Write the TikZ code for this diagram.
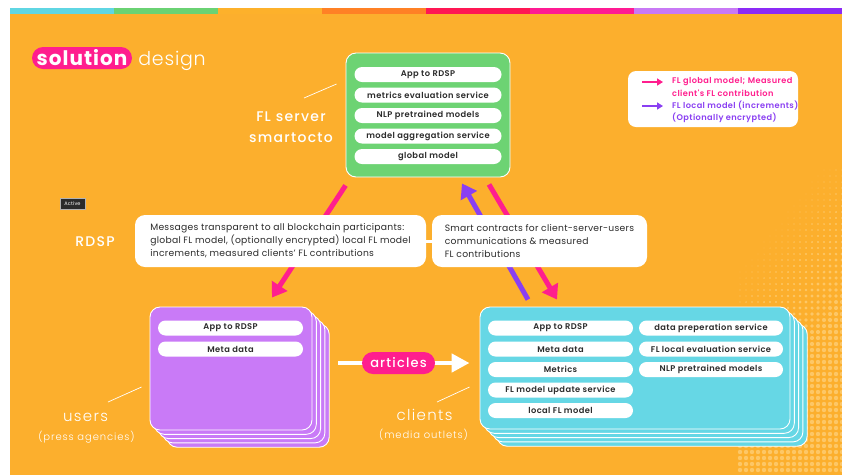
\documentclass[tikz,border=0pt]{standalone}
\usepackage{fontspec}
\setmainfont[LetterSpace=3]{Poppins}
\newfontfamily\popsemi[LetterSpace=5]{Poppins SemiBold}
\newfontfamily\popmed[LetterSpace=9]{Poppins Medium}
\newfontfamily\poplight[LetterSpace=9]{Poppins Light}
\newfontfamily\poptitle[LetterSpace=4]{Poppins Light}
\newfontfamily\popbold[LetterSpace=5]{Poppins Bold}
\usetikzlibrary{calc}
\usetikzlibrary{arrows.meta}
\usetikzlibrary{positioning}

\definecolor{bgorange}{HTML}{FCAF2D}
\definecolor{dotorange}{HTML}{FDC766}
\definecolor{stcyan}{HTML}{5FD6E3}
\definecolor{stgreen}{HTML}{6AD273}
\definecolor{storange}{HTML}{FDB12B}
\definecolor{stdark}{HTML}{FF8125}
\definecolor{stred}{HTML}{FF1654}
\definecolor{stpink}{HTML}{FF1A93}
\definecolor{stlilac}{HTML}{C879F5}
\definecolor{stviolet}{HTML}{8C2AF6}
\definecolor{srvgreen}{HTML}{6DD373}
\definecolor{clcyan}{HTML}{66D7E5}
\definecolor{uslilac}{HTML}{C97AF7}
\definecolor{flpink}{HTML}{FF1E8E}
\definecolor{flviolet}{HTML}{8A3FF2}
\definecolor{darktext}{HTML}{2B2B2B}

\begin{document}
\begin{tikzpicture}[x=1pt,y=-1pt,
        card/.style={draw=white,line width=0.9pt,rounded corners=10pt},
        item/.style={fill=white,rounded corners=7.5pt,minimum height=15pt,inner sep=0pt,text=darktext,font=\popsemi\fontsize{8.3}{9}\selectfont},
        srvitem/.style={item,minimum width=147pt},
        clitem/.style={item,minimum width=145pt},
        msg/.style={fill=white,rounded corners=10pt,align=left,inner sep=0pt,text=darktext,font=\fontsize{9.2}{13}\selectfont},
        lbl/.style={text=white,inner sep=0pt,font=\popmed\fontsize{14}{16}\selectfont},
        sublbl/.style={text=white,inner sep=0pt,font=\poplight\fontsize{10}{12}\selectfont},
        pill/.style={fill=flpink,rounded corners=11pt,minimum height=22pt,inner sep=0pt,text=white},
        legtxt/.style={anchor=west,inner sep=0pt,font=\popsemi\fontsize{8.2}{9}\selectfont},
        flowpink/.style={draw=flpink,line width=5pt,-{Triangle[length=14pt,width=18pt]}},
        flowviolet/.style={draw=flviolet,line width=5pt,-{Triangle[length=14pt,width=18pt]}},
        tick/.style={draw=white,line width=0.7pt}
      ]
      \useasboundingbox (0,0) rectangle (842,475);
      % background and top stripe
      \fill[white] (0,0) rectangle (842,475);
      \fill[bgorange] (10,14) rectangle (842,475);
      \foreach \c [count=\n from 0] in {stcyan,stgreen,storange,stdark,stred,stpink,stlilac,stviolet}
        \fill[\c] ({10+104*\n},8) rectangle ({10+104*(\n+1)},14);
      % halftone dots
      \foreach \i in {0,...,17}{
        \foreach \j in {0,...,50}{
          \pgfmathsetmacro\dotr{min(2.2,2.2*((\i*6+10)/160+(\j*6)/200)-0.9)}
          \ifdim\dotr pt>0.35pt
            \fill[dotorange] ({740+6*\i},{170+6*\j}) circle (\dotr pt);
          \fi
        }
      }

      % title
      \node[pill,minimum width=100pt,font=\popbold\fontsize{20}{22}\selectfont] (title) at (82,58) {solution};
      \node[anchor=base west,inner sep=0pt,text=white,font=\poptitle\fontsize{19}{22}\selectfont] (titlerest) at ([xshift=6pt]title.base east) {design};

      % FL server
      \node[card,fill=srvgreen,minimum width=164pt,minimum height=124pt] (server) at (428,115) {};
      \node[srvitem] (srvapp) at (428,74.5) {App to RDSP};
      \node[srvitem] (srvmetrics) at (428,95) {metrics evaluation service};
      \node[srvitem] (srvnlp) at (428,115.5) {NLP pretrained models};
      \node[srvitem] (srvagg) at (428,136) {model aggregation service};
      \node[srvitem] (srvglobal) at (428,156.5) {global model};

      % users stack
      \foreach \k in {4,3,2,1}
        \draw[card,fill=uslilac] ({150+4.3*\k},{307+4.3*\k}) rectangle ({312+4.3*\k},{430+4.3*\k});
      \node[card,fill=uslilac,minimum width=162pt,minimum height=123pt] (users) at (231,368.5) {};
      \node[clitem] (usapp) at (230.5,328) {App to RDSP};
      \node[clitem] (usmeta) at (230.5,349) {Meta data};

      % clients stack
      \foreach \k in {4,3,2,1}
        \draw[card,fill=clcyan] ({480+4.3*\k},{307+4.3*\k}) rectangle ({790+4.3*\k},{429+4.3*\k});
      \node[card,fill=clcyan,minimum width=310pt,minimum height=122pt] (clients) at (635,368) {};
      \node[clitem] (clapp) at (560.5,328) {App to RDSP};
      \node[clitem] (clmeta) at (560.5,349) {Meta data};
      \node[clitem] (clmetrics) at (560.5,369.5) {Metrics};
      \node[clitem] (clupdate) at (560.5,390) {FL model update service};
      \node[clitem] (cllocal) at (560.5,410.5) {local FL model};
      \node[clitem,minimum width=144pt] (clprep) at (711,328) {data preperation service};
      \node[clitem,minimum width=144pt] (cleval) at (711,349) {FL local evaluation service};
      \node[clitem,minimum width=144pt] (clnlp) at (711,369.5) {NLP pretrained models};

      % FL flows
      \draw[flowpink] ([yshift=-8pt]server.south west) -- ([xshift=41pt,yshift=9pt]users.north);
      \draw[flowviolet] ([xshift=-107pt,yshift=7pt]clients.north) -- ([xshift=34pt,yshift=-6pt]server.south);
      \draw[flowpink] ([xshift=61pt,yshift=-7pt]server.south) -- ([xshift=-78pt,yshift=7pt]clients.north);

      % blockchain messages
      \node[msg,minimum width=291pt,minimum height=52pt] (msgs) at (280.5,241) {Messages transparent to all blockchain participants:\\global FL model, (optionally encrypted) local FL model\\increments, measured clients' FL contributions};
      \node[msg,minimum width=215pt,minimum height=52pt] (smart) at (539.5,241) {Smart contracts for client-server-users\\communications \& measured\\FL contributions};
      \draw[white,line width=3pt] (msgs.east) -- (smart.west);

      % articles
      \draw[white,line width=4.5pt,-{Triangle[length=18pt,width=18pt]}] ([xshift=26pt,yshift=5.5pt]users.east) -- ([xshift=-10pt,yshift=5pt]clients.west);
      \node[pill,minimum width=73pt,font=\popmed\fontsize{13}{15}\selectfont] (artlabel) at (398.5,363) {articles};

      % labels
      \node[lbl] (srvname) at (291,117) {FL server};
      \node[lbl,font=\popmed\fontsize{14}{16}\selectfont] (srvsub) at (291,138) {smartocto};
      \draw[tick] ([xshift=13pt,yshift=19pt]srvname.center) -- ([xshift=-9pt,yshift=31pt]server.west);
      \node[lbl] (rdsp) at (95,242) {RDSP};
      \node[lbl,font=\poplight\fontsize{15}{17}\selectfont] (usname) at (85.5,417) {users};
      \node[sublbl] (ussub) at (86.5,437) {(press agencies)};
      \draw[tick] ([xshift=22.5pt,yshift=15pt]usname.center) -- ([xshift=-8pt,yshift=-18.5pt]users.west);
      \node[lbl,font=\poplight\fontsize{15}{17}\selectfont] (clname) at (424.5,415) {clients};
      \node[sublbl] (clsub) at (423.5,435) {(media outlets)};
      \draw[tick] ([xshift=12.5pt,yshift=13pt]clname.center) -- ([xshift=-10pt,yshift=-19pt]clients.west);
      \node[fill=darktext,draw=white!70!black,line width=0.4pt,minimum width=25pt,minimum height=11pt,inner sep=0pt,text=white,font=\fontsize{5}{6}\selectfont] (active) at (72.5,203.5) {Active};

      % legend
      \node[fill=white,rounded corners=8pt,minimum width=170pt,minimum height=56pt] (legend) at (713,99) {};
      \node[legtxt,text=flpink] (leggl) at (672,82) {FL global model; Measured};
      \node[legtxt,text=flpink] (leggl2) at (672,93.5) {client's FL contribution};
      \node[legtxt,text=flviolet] (leglc) at (672,106) {FL local model (increments)};
      \node[legtxt,text=flviolet] (leglc2) at (672,117.5) {(Optionally encrypted)};
      \draw[draw=flpink,line width=1.6pt,-{Triangle[length=6pt,width=7pt]}] ([xshift=-30pt]leggl.west) -- ([xshift=-9pt]leggl.west);
      \draw[draw=flviolet,line width=1.6pt,-{Triangle[length=6pt,width=7pt]}] ([xshift=-30pt]leglc.west) -- ([xshift=-9pt]leglc.west);
    \end{tikzpicture}
\end{document}
